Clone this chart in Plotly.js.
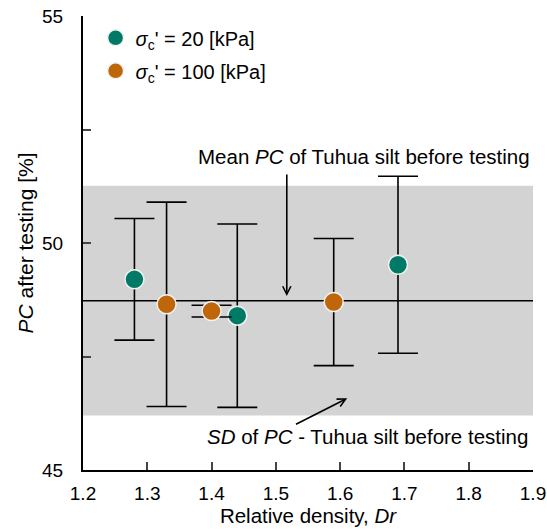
<!DOCTYPE html>
<html>
<head>
<meta charset="utf-8">
<script src="https://cdn.plot.ly/plotly-3.0.1.min.js"></script>
<style>html,body{margin:0;padding:0;background:#fff;}#chart{width:547px;height:530px;}</style>
</head>
<body>
<div id="chart"></div>
<script>
// Series: sigma_c' = 20 kPa
const dr20 = [1.28, 1.44, 1.69];
const pc20 = [49.20, 48.40, 49.52];
const err20 = [1.34, 2.02, 1.95];
// Series: sigma_c' = 100 kPa
const dr100 = [1.33, 1.40, 1.59];
const pc100 = [48.65, 48.50, 48.70];
const err100 = [2.25, 0.13, 1.40];
// Tuhua silt before testing
const meanPC = [48.73];
const sdPC = [2.53];
// Axis ticks
const xTicks = [1.2, 1.3, 1.4, 1.5, 1.6, 1.7, 1.8, 1.9];
const yTicks = [45, 47.5, 50, 52.5, 55];
const yTickText = ['45', '', '50', '', '55'];
const names = ["<i>σ</i><sub>c</sub>' = 20 [kPa]", "<i>σ</i><sub>c</sub>' = 100 [kPa]"];

const FONT = 'Liberation Sans, Arial, sans-serif';
const green = '#007A66';
const orange = '#C0660A';

const errStyle = (arr) => ({type: 'data', array: arr, symmetric: true, color: '#000', thickness: 1.6, width: 20});

const traces = [
  {x: dr20, y: pc20, type: 'scatter', mode: 'markers', name: names[0], legendgroup: 'a',
   marker: {color: green, size: 19, line: {color: '#f2f2f2', width: 1.5}}, error_y: errStyle(err20)},
  {x: dr100, y: pc100, type: 'scatter', mode: 'markers', name: names[1], legendgroup: 'b',
   marker: {color: orange, size: 19, line: {color: '#f2f2f2', width: 1.5}}, error_y: errStyle(err100)}
];

const xMin = xTicks[0], xMax = xTicks[xTicks.length - 1];

const layout = {
  width: 547, height: 530,
  margin: {l: 83, r: 14, t: 16, b: 60},
  paper_bgcolor: '#fff', plot_bgcolor: 'rgba(0,0,0,0)',
  font: {family: FONT, size: 19, color: '#000'},
  showlegend: true,
  legend: {x: 0.028, y: 0.995, xanchor: 'left', yanchor: 'top', bgcolor: 'rgba(0,0,0,0)',
           font: {family: FONT, size: 20, color: '#000'}, tracegroupgap: 4, itemsizing: 'trace'},
  xaxis: {range: [xMin, xMax], tickvals: xTicks, tickformat: '.1f', ticks: 'inside', ticklen: 8, tickwidth: 2,
          showline: true, linewidth: 2, linecolor: '#000', showgrid: false, zeroline: false,
          tickfont: {family: FONT, size: 19}, ticklabelstandoff: 5, ticklabeloverflow: 'allow',
          title: {text: 'Relative density, <i>Dr</i>', font: {family: FONT, size: 20.5}, standoff: 4}},
  yaxis: {range: [45, 55], tickvals: yTicks, ticktext: yTickText, ticks: 'inside', ticklen: 8, tickwidth: 2,
          showline: true, linewidth: 2, linecolor: '#000', showgrid: false, zeroline: false,
          tickfont: {family: FONT, size: 19}, ticklabelstandoff: 14},
  shapes: [
    {type: 'rect', layer: 'below', xref: 'x', yref: 'y', x0: xMin, x1: xMax,
     y0: meanPC[0] - sdPC[0], y1: meanPC[0] + sdPC[0], fillcolor: '#D3D3D3', line: {width: 0}},
    {type: 'line', layer: 'below', xref: 'x', yref: 'y', x0: xMin, x1: xMax,
     y0: meanPC[0], y1: meanPC[0], line: {color: '#000', width: 1.5}}
  ],
  annotations: [
    {xref: 'paper', yref: 'paper', x: -0.128, y: 0.5, text: '<i>PC</i> after testing [%]', textangle: -90,
     showarrow: false, font: {family: FONT, size: 21}, xanchor: 'center', yanchor: 'middle'},
    {xref: 'x', yref: 'y', x: 1.637, y: 51.9, text: 'Mean <i>PC</i> of Tuhua silt before testing',
     showarrow: false, font: {family: FONT, size: 20.5}},
    {xref: 'x', yref: 'y', x: 1.642, y: 45.74, text: '<i>SD</i> of <i>PC</i> - Tuhua silt before testing',
     showarrow: false, font: {family: FONT, size: 20.5}},
    {xref: 'x', yref: 'y', axref: 'x', ayref: 'y', x: 1.517, y: meanPC[0] + 0.1, ax: 1.517, ay: 51.54,
     text: '', showarrow: true, arrowhead: 5, arrowsize: 1, arrowwidth: 1.6, arrowcolor: '#000'},
    {xref: 'x', yref: 'y', axref: 'x', ayref: 'y', x: 1.611, y: 46.58, ax: 1.529, ay: 45.99,
     text: '', showarrow: true, arrowhead: 5, arrowsize: 1, arrowwidth: 1.6, arrowcolor: '#000'}
  ]
};

Plotly.newPlot('chart', traces, layout, {displayModeBar: false, staticPlot: true});
</script>
</body>
</html>
